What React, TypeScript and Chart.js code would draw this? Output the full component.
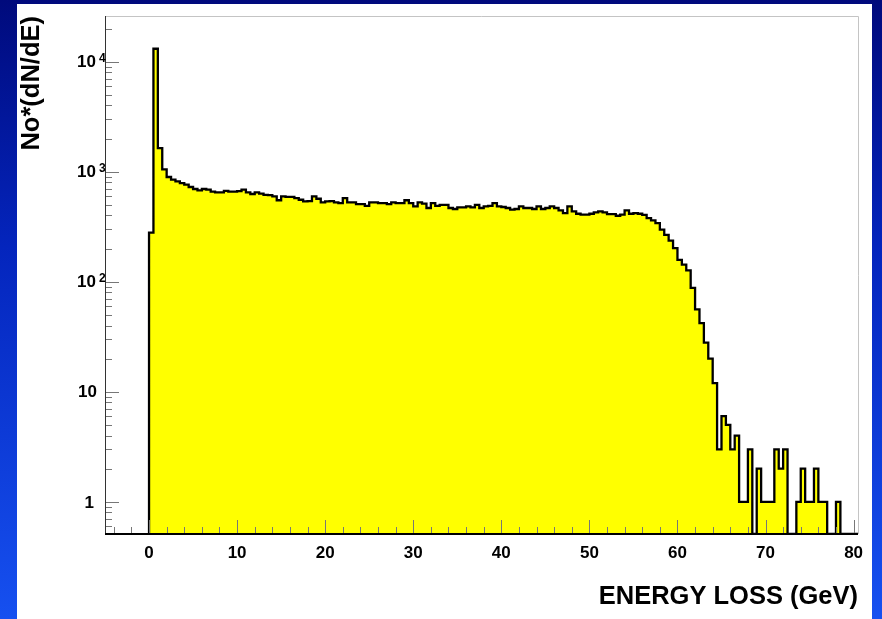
import React, { useEffect, useRef } from 'react';
import { Chart, registerables } from 'chart.js';

Chart.register(...registerables);

// ---- data ----
const BIN_WIDTH = 0.5;
const FIRST_EDGE = 0;
const COUNTS = [
  279, 13100, 1640, 1050, 895, 846, 817, 789, 762, 726,
  696, 677, 696, 686, 658, 648, 648, 670, 660, 660,
  665, 686, 648, 627, 650, 632, 617, 612, 597, 550,
  597, 590, 590, 575, 556, 538, 540, 597, 568, 526,
  538, 540, 526, 519, 575, 526, 526, 508, 508, 490,
  526, 526, 519, 519, 508, 526, 519, 519, 550, 519,
  484, 526, 512, 468, 519, 490, 500, 500, 468, 458,
  474, 474, 484, 474, 500, 468, 484, 490, 519, 484,
  478, 468, 452, 458, 484, 468, 468, 458, 484, 458,
  468, 484, 468, 445, 421, 484, 436, 415, 407, 407,
  415, 427, 436, 427, 412, 412, 398, 407, 445, 415,
  421, 415, 406, 379, 361, 341, 297, 267, 236, 202,
  158, 143, 127, 88, 56, 42, 28, 20, 12, 3,
  6, 5, 3, 4, 1, 1, 3, 0, 2, 1,
  1, 1, 3, 2, 3, 0, 0, 1, 2, 1,
  1, 2, 1, 1, 0, 0, 1, 0, 0, 0,
  0,
];
const X_TICK_LABELS = [0, 10, 20, 30, 40, 50, 60, 70, 80];
const Y_DECADES = [0, 1, 2, 3, 4];
const X_TITLE = 'ENERGY LOSS (GeV)';
const Y_TITLE = 'No*(dN/dE)';

const X_MIN = -5;
const X_MAX = 80.5;
const Y_MIN = 0.51;
const Y_MAX = 26000;

const FONT = "'Liberation Sans', Arial, Helvetica, sans-serif";

function buildPoints() {
  const pts: { x: number; y: number }[] = [{ x: FIRST_EDGE, y: Y_MIN }];
  COUNTS.forEach((c, i) => {
    pts.push({ x: FIRST_EDGE + i * BIN_WIDTH, y: c > 0 ? c : Y_MIN });
  });
  pts.push({ x: FIRST_EDGE + COUNTS.length * BIN_WIDTH, y: Y_MIN });
  return pts;
}

const framePlugin = {
  id: 'rootFrame',
  beforeDraw(chart: any) {
    const { ctx, width, height } = chart;
    ctx.save();
    const g = ctx.createLinearGradient(0, 0, 0, height);
    g.addColorStop(0, '#000a7c');
    g.addColorStop(0.4, '#0425bd');
    g.addColorStop(1, '#1650f0');
    ctx.fillStyle = g;
    ctx.fillRect(0, 0, width, height);
    ctx.fillStyle = '#ffffff';
    ctx.fillRect(17, 4, 855, height - 4);
    ctx.restore();
  },
  afterDatasetsDraw(chart: any) {
    const { ctx, chartArea: a } = chart;
    const xs = chart.scales.x;
    const ys = chart.scales.y;
    ctx.save();
    // top / right frame
    ctx.strokeStyle = '#c4c4c4';
    ctx.lineWidth = 1;
    ctx.beginPath();
    ctx.moveTo(a.left, a.top + 0.5);
    ctx.lineTo(a.right + 0.5, a.top + 0.5);
    ctx.lineTo(a.right + 0.5, a.bottom);
    ctx.stroke();

    // x ticks (inside)
    ctx.strokeStyle = '#777';
    ctx.beginPath();
    for (let v = -4; v <= X_MAX; v += 2) {
      const px = Math.round(xs.getPixelForValue(v)) + 0.5;
      const major = v % 10 === 0;
      ctx.moveTo(px, a.bottom);
      ctx.lineTo(px, a.bottom - (major ? 14 : 7));
    }
    ctx.stroke();

    // y ticks (inside)
    ctx.beginPath();
    for (let d = -1; d <= 4; d++) {
      for (let m = 1; m <= 9; m++) {
        const v = m * Math.pow(10, d);
        if (v < Y_MIN || v > Y_MAX) continue;
        const py = Math.round(ys.getPixelForValue(v)) + 0.5;
        ctx.moveTo(a.left, py);
        ctx.lineTo(a.left + (m === 1 ? 14 : 7), py);
      }
    }
    ctx.stroke();

    // axes
    ctx.strokeStyle = '#333';
    ctx.lineWidth = 1;
    ctx.beginPath();
    ctx.moveTo(a.left + 0.5, a.top);
    ctx.lineTo(a.left + 0.5, a.bottom);
    ctx.stroke();
    ctx.strokeStyle = '#000';
    ctx.lineWidth = 2;
    ctx.beginPath();
    ctx.moveTo(a.left, a.bottom);
    ctx.lineTo(a.right, a.bottom);
    ctx.stroke();

    // y labels
    ctx.fillStyle = '#000';
    Y_DECADES.forEach((d) => {
      const py = ys.getPixelForValue(Math.pow(10, d));
      ctx.font = `bold 17px ${FONT}`;
      ctx.textBaseline = 'middle';
      ctx.textAlign = 'right';
      if (d === 0) {
        ctx.fillText('1', 94, py + 1);
      } else if (d === 1) {
        ctx.fillText('10', 97, py + 1);
      } else {
        ctx.fillText('10', 96, py + 1);
        ctx.font = `bold 12px ${FONT}`;
        ctx.textAlign = 'left';
        ctx.textBaseline = 'alphabetic';
        ctx.fillText(String(d), 99, py + 0.5);
      }
    });
    ctx.restore();
  },
};

export default function App() {
  const ref = useRef<HTMLCanvasElement | null>(null);

  useEffect(() => {
    document.body.style.margin = '0';
    const canvas = ref.current;
    if (!canvas) return;
    const chart = new Chart(canvas, {
      type: 'line',
      data: {
        datasets: [
          {
            data: buildPoints(),
            stepped: 'before',
            borderColor: '#000000',
            borderWidth: 2.3,
            backgroundColor: '#ffff00',
            fill: 'start',
            pointRadius: 0,
            tension: 0,
          },
        ],
      },
      options: {
        animation: false,
        responsive: false,
        devicePixelRatio: 1,
        layout: { padding: { top: 16, right: 24, left: 0, bottom: 0 } },
        plugins: { legend: { display: false }, tooltip: { enabled: false } },
        scales: {
          x: {
            type: 'linear',
            min: X_MIN,
            max: X_MAX,
            grid: { display: false, drawTicks: false },
            border: { display: false },
            afterBuildTicks: (s: any) => {
              s.ticks = X_TICK_LABELS.map((v) => ({ value: v }));
            },
            afterFit: (s: any) => {
              s.height = 85;
            },
            ticks: {
              autoSkip: false,
              maxRotation: 0,
              padding: 9,
              color: '#000',
              font: { family: FONT, size: 17, weight: 'bold' },
            },
            title: {
              display: true,
              text: X_TITLE,
              align: 'end',
              color: '#000',
              font: { family: FONT, size: 25.5, weight: 'bold' },
              padding: { top: 0, bottom: 7 },
            },
          },
          y: {
            type: 'logarithmic',
            min: Y_MIN,
            max: Y_MAX,
            grid: { display: false, drawTicks: false },
            border: { display: false },
            ticks: { display: false },
            afterFit: (s: any) => {
              s.width = 105;
            },
            title: {
              display: true,
              text: Y_TITLE,
              align: 'end',
              color: '#000',
              font: { family: FONT, size: 25.5, weight: 'bold' },
              padding: { top: 17, bottom: 0 },
            },
          },
        },
      },
      plugins: [framePlugin],
    } as any);
    return () => chart.destroy();
  }, []);

  return (
    <div style={{ width: 882, height: 619 }}>
      <canvas ref={ref} width={882} height={619} style={{ display: 'block' }} />
    </div>
  );
}
